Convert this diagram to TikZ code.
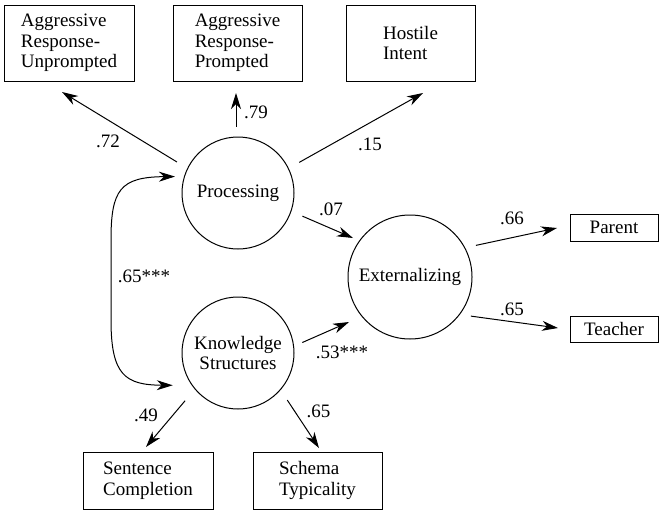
\documentclass[tikz,border=0pt]{standalone}
\usepackage{fontspec}
\setmainfont{Liberation Serif}
\usetikzlibrary{arrows.meta,calc}
\begin{document}
\begin{tikzpicture}[x=1pt,y=-1pt,
  every node/.style={font=\fontsize{19}{20.5}\selectfont},
  box/.style={draw, line width=1pt, rectangle, align=left, inner sep=0pt},
  lat/.style={draw, line width=1pt, circle, inner sep=0pt, align=center},
  arr/.style={line width=1pt, -{Stealth[length=16pt,width=10pt,inset=5pt]}},
  dbl/.style={line width=1pt, {Stealth[length=16pt,width=10pt,inset=5pt]}-{Stealth[length=16pt,width=10pt,inset=5pt]}},
  lab/.style={inner sep=0pt}]
\fill[white] (0,0) rectangle (663,514);
\useasboundingbox (0,0) rectangle (663,514);
% indicator boxes
\node[box, minimum width=130pt, minimum height=76pt] (B1) at (69,43) {Aggressive\\Response-\\Unprompted};
\node[box, minimum width=129pt, minimum height=76pt] (B2) at (237.5,43) {Aggressive\\Response-\\Prompted};
\node[box, minimum width=129pt, minimum height=76pt] (B3) at (410.5,43) {Hostile\\Intent};
\node[box, minimum width=88pt, minimum height=27pt] (Par) at (614,227.5) {Parent};
\node[box, minimum width=88pt, minimum height=26pt] (Tea) at (614,329) {Teacher};
\node[box, minimum width=130pt, minimum height=57pt] (Sen) at (148,480.5) {Sentence\\Completion};
\node[box, minimum width=129pt, minimum height=57pt] (Sch) at (317.5,480.5) {Schema\\Typicality};
% latent variables
\node[lat, minimum size=112pt] (P) at (238,193) {Processing};
\node[lat, minimum size=112pt] (K) at (238,353) {Knowledge\\Structures};
\node[lat, minimum size=124pt] (E) at (410,277) {Externalizing};
% arrow tips
\coordinate (t1) at (62,92);
\coordinate (t2) at (236,93);
\coordinate (t3) at (423,93);
\coordinate (t4) at (353,238);
\coordinate (t5) at (349,322);
\coordinate (t6) at (557,228);
\coordinate (t7) at (558,328);
\coordinate (t8) at (146,447);
\coordinate (t9) at (319,448);
% paths
\draw[arr, shorten <=12pt] (P.154) -- (t1);
\draw[arr, shorten <=10pt] (P.north -| t2) -- (t2);
\draw[arr, shorten <=12pt] (P.26) -- (t3);
\draw[arr, shorten <=12pt] (P.341) -- (t4);
\draw[arr, shorten <=9pt] (K.7) -- (t5);
\draw[arr, shorten <=11pt] (E.28) -- (t6);
\draw[arr, shorten <=11pt] (E.323) -- (t7);
\draw[arr, shorten <=15pt] (K.220) -- (t8);
\draw[arr, shorten <=12pt] (K.319) -- (t9);
\draw[dbl, shorten <=9pt, shorten >=19pt] (P.163) .. controls (120,177) and (111,190) .. (111,240) -- (111,320) .. controls (111,375) and (125,385) .. (K.215);
% labels
\node[lab] (l1) at (108,141) {.72};
\node[lab] (l2) at (256,112) {.79};
\node[lab] (l3) at (370,144) {.15};
\node[lab] (l4) at (331,209) {.07};
\node[lab] (l5) at (342,352) {.53***};
\node[lab] (l6) at (144,276) {.65***};
\node[lab] (l7) at (512,218.5) {.66};
\node[lab] (l8) at (512,309) {.65};
\node[lab] (l9) at (146,415) {.49};
\node[lab] (l10) at (318.5,411) {.65};
\end{tikzpicture}
\end{document}
